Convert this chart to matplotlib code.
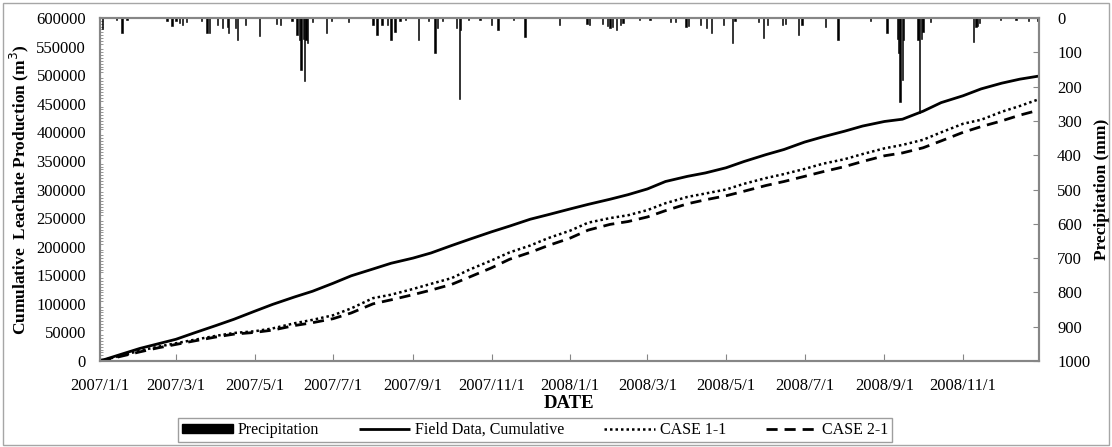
import numpy as np
import matplotlib
matplotlib.use("Agg")
import matplotlib.pyplot as plt
import matplotlib.dates as mdates
from matplotlib.ticker import MultipleLocator, FuncFormatter
from matplotlib.patches import Patch, Rectangle
from datetime import datetime

plt.rcParams['font.family'] = ['Liberation Serif', 'DejaVu Serif']

# cumulative leachate (m3), every half month
line_dates = ['2007-01-01', '2007-01-15', '2007-02-01', '2007-02-15', '2007-03-01', '2007-03-15',
              '2007-04-01', '2007-04-15', '2007-05-01', '2007-05-15', '2007-06-01', '2007-06-15',
              '2007-07-01', '2007-07-15', '2007-08-01', '2007-08-15', '2007-09-01', '2007-09-15',
              '2007-10-01', '2007-10-15', '2007-11-01', '2007-11-15', '2007-12-01', '2007-12-15',
              '2008-01-01', '2008-01-15', '2008-02-01', '2008-02-15', '2008-03-01', '2008-03-15',
              '2008-04-01', '2008-04-15', '2008-05-01', '2008-05-15', '2008-06-01', '2008-06-15',
              '2008-07-01', '2008-07-15', '2008-08-01', '2008-08-15', '2008-09-01', '2008-09-15',
              '2008-10-01', '2008-10-15', '2008-11-01', '2008-11-15', '2008-12-01', '2008-12-15',
              '2008-12-30']
field = [0, 10000, 22000, 30000, 38000, 49000, 62000, 73000, 87000, 99000, 112000, 122000,
         136000, 149000, 161000, 171000, 180000, 189000, 202000, 213000, 226000, 236000, 248000, 256000,
         266000, 274000, 283000, 291000, 301000, 314000, 323000, 329000, 338000, 349000, 361000, 370000,
         383000, 392000, 402000, 411000, 419000, 423000, 437000, 452000, 464000, 476000, 486000, 493000,
         498500]
case11 = [0, 8000, 18000, 25000, 31000, 37000, 44000, 49000, 52000, 57000, 66000, 72000,
          80000, 92000, 110000, 116000, 126000, 135000, 145000, 160000, 176000, 190000, 202000, 215000,
          228000, 242000, 250000, 255000, 264000, 276000, 287000, 293000, 300000, 310000, 320000, 327000,
          336000, 345000, 353000, 362000, 372000, 378000, 387000, 400000, 415000, 422000, 436000, 446000,
          458000]
case21 = [0, 7000, 16000, 23000, 29000, 35000, 42000, 47000, 50000, 54000, 62000, 67000,
          74000, 84000, 100000, 107000, 116000, 124000, 134000, 147000, 163000, 178000, 190000, 202000,
          215000, 229000, 239000, 244000, 252000, 263000, 275000, 282000, 289000, 297000, 307000, 314000,
          323000, 331000, 340000, 349000, 359000, 364000, 373000, 385000, 400000, 410000, 420000, 430000,
          439000]

# daily precipitation (mm), main events
prcp_dates = ['2007-01-03', '2007-01-14', '2007-01-18', '2007-01-22', '2007-02-22', '2007-02-26',
              '2007-03-01', '2007-03-04', '2007-03-06', '2007-03-09', '2007-03-21', '2007-03-25',
              '2007-03-27', '2007-04-02', '2007-04-06', '2007-04-10', '2007-04-11', '2007-04-16',
              '2007-04-18', '2007-04-24', '2007-05-05', '2007-05-18', '2007-05-21', '2007-05-30',
              '2007-06-03', '2007-06-05', '2007-06-06', '2007-06-08', '2007-06-09', '2007-06-10',
              '2007-06-11', '2007-06-15', '2007-06-26', '2007-06-30', '2007-07-13', '2007-08-01',
              '2007-08-04', '2007-08-08', '2007-08-12', '2007-08-15', '2007-08-18', '2007-08-22',
              '2007-08-26', '2007-09-05', '2007-09-13', '2007-09-18', '2007-09-20', '2007-09-24',
              '2007-10-05', '2007-10-07', '2007-10-08', '2007-10-14', '2007-10-23', '2007-11-01',
              '2007-11-06', '2007-11-18', '2007-11-27', '2007-12-24', '2008-01-14', '2008-01-16',
              '2008-01-26', '2008-01-30', '2008-02-01', '2008-02-03', '2008-02-06', '2008-02-09',
              '2008-02-11', '2008-02-24', '2008-03-03', '2008-03-19', '2008-03-23', '2008-03-31',
              '2008-04-02', '2008-04-11', '2008-04-16', '2008-04-20', '2008-04-29', '2008-05-06',
              '2008-05-08', '2008-05-26', '2008-05-30', '2008-06-02', '2008-06-14', '2008-06-16',
              '2008-06-26', '2008-06-29', '2008-07-17', '2008-07-27', '2008-08-21', '2008-09-03',
              '2008-09-11', '2008-09-12', '2008-09-13', '2008-09-15', '2008-09-16', '2008-09-27',
              '2008-09-28', '2008-09-30', '2008-10-01', '2008-10-07', '2008-11-09', '2008-11-11',
              '2008-11-12', '2008-11-14', '2008-11-30', '2008-12-12', '2008-12-22', '2008-12-29']
prcp_mm = [32, 5, 44, 5, 8, 23,
           10, 15, 20, 12, 8, 45,
           45, 20, 28, 25, 45, 28,
           64, 20, 52, 18, 20, 8,
           50, 64, 152, 60, 185, 64,
           73, 12, 44, 8, 12, 20,
           50, 20, 20, 64, 41, 8,
           6, 64, 8, 103, 28, 8,
           30, 237, 35, 5, 5, 20,
           35, 6, 56, 20, 18, 20,
           18, 22, 30, 25, 35, 20,
           15, 5, 5, 12, 12, 26,
           24, 20, 28, 45, 20, 73,
           10, 12, 58, 20, 20, 18,
           50, 20, 26, 64, 10, 45,
           60, 103, 245, 180, 65, 65,
           277, 60, 40, 12, 70, 25,
           22, 15, 5, 5, 8, 10]

to_dt = lambda s: datetime.strptime(s, '%Y-%m-%d')
ld = [to_dt(s) for s in line_dates]
pd_ = [to_dt(s) for s in prcp_dates]

grey = '#868686'
fig, ax = plt.subplots(figsize=(11.12, 4.47), dpi=100)
fig.subplots_adjust(left=0.0899, right=0.9344, bottom=0.1924, top=0.9597)

l1, = ax.plot(ld, field, color='black', lw=2.0, solid_capstyle='butt')
l2, = ax.plot(ld, case11, color='black', lw=1.8, linestyle=(0, (1, 1.2)))
l3, = ax.plot(ld, case21, color='black', lw=2.0, linestyle=(0, (4, 2.5)))

ax.set_xlim(datetime(2007, 1, 1), datetime(2008, 12, 30))
ax.set_ylim(0, 600000)
ax.yaxis.set_major_locator(MultipleLocator(50000))
ax.yaxis.set_minor_locator(MultipleLocator(5000))
ax.xaxis.set_major_locator(mdates.MonthLocator(bymonth=[1, 3, 5, 7, 9, 11]))

def date_fmt(x, pos):
    d = mdates.num2date(x)
    return f"{d.year}/{d.month}/{d.day}"
ax.xaxis.set_major_formatter(FuncFormatter(date_fmt))

ax2 = ax.twinx()
bars = ax2.bar(pd_, prcp_mm, width=1.0, color='black', edgecolor='black', linewidth=0.4,
               align='center')
ax2.set_ylim(1000, 0)
ax2.yaxis.set_major_locator(MultipleLocator(100))

for a in (ax, ax2):
    for sp in a.spines.values():
        sp.set_color(grey)
        sp.set_linewidth(1.5)
ax.tick_params(axis='x', direction='in', length=5, color=grey, labelsize=12, pad=12)
ax.tick_params(axis='y', which='major', direction='in', length=0, color=grey, labelsize=12, pad=10)
ax.tick_params(axis='y', which='minor', direction='in', length=2, color=grey, width=0.6)
ax2.tick_params(axis='y', direction='in', length=4, color=grey, labelsize=12, pad=13)

ax.set_ylabel('Cumulative  Leachate Production (m$^3$)', fontsize=12.5, fontweight='bold', labelpad=4)
ax2.set_ylabel('Precipitation (mm)', fontsize=12.5, fontweight='bold', labelpad=3)
ax.set_xlabel('DATE', fontsize=13.5, fontweight='bold', labelpad=1)

handles = [Patch(facecolor='black', edgecolor='black'), l1, l2, l3]
labels = ['Precipitation', 'Field Data, Cumulative', 'CASE 1-1', 'CASE 2-1']
leg = fig.legend(handles, labels, loc='center', bbox_to_anchor=(0.481, 0.038), ncol=4,
                 frameon=True, fancybox=False, edgecolor=grey, fontsize=11.5,
                 handlelength=3.2, handleheight=0.45, handletextpad=0.3, columnspacing=2.5,
                 borderpad=0.25, borderaxespad=0)
leg.get_frame().set_linewidth(1.0)

fig.patches.append(Rectangle((0.003, 0.004), 0.994, 0.99, transform=fig.transFigure,
                             fill=False, edgecolor='#a6a6a6', lw=1.0))

fig.savefig('out.png', dpi=100)
